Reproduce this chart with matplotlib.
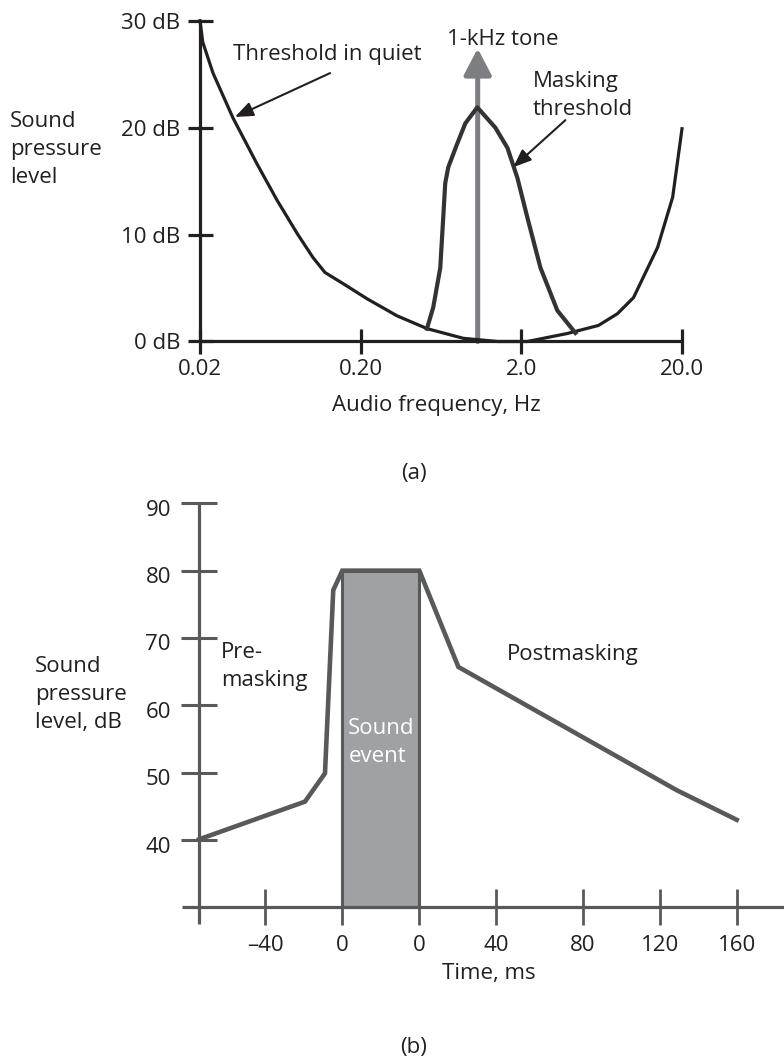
import matplotlib
matplotlib.use("Agg")
import matplotlib.pyplot as plt
from matplotlib.transforms import ScaledTranslation

plt.rcParams["font.family"] = ["Open Sans", "DejaVu Sans"]
FS = 16
LS = 1.45

W, H = 784, 1057
fig = plt.figure(figsize=(W / 100, H / 100), dpi=100)

def fx(x):
    return x / W

def fy(y):
    return 1 - y / H

def ftext(x, y, s, **kw):
    kw.setdefault("color", "#231f20")
    fig.text(fx(x), fy(y), s, fontsize=FS, **kw)

# ---------------- data: panel (a) ----------------
quiet_f = [0.02, 0.0208, 0.0241, 0.0321, 0.0453, 0.0604, 0.0805, 0.101, 0.120,
           0.156, 0.219, 0.337, 0.519, 0.87, 1.42, 2.18, 3.87, 6.04, 7.93,
           9.98, 14.1, 17.5, 20.0]
quiet_db = [30.0, 28.0, 25.1, 20.9, 16.6, 13.2, 10.1, 7.85, 6.45,
            5.4, 4.0, 2.4, 1.2, 0.3, 0.0, 0.0, 0.75, 1.5, 2.6,
            4.1, 8.8, 13.5, 19.9]
mask_f = [0.517, 0.566, 0.626, 0.653, 0.672, 0.702, 0.798, 0.896, 1.064,
          1.378, 1.64, 1.89, 2.18, 2.63, 3.35, 4.34]
mask_db = [1.2, 3.2, 6.9, 11.6, 14.8, 16.3, 18.5, 20.4, 21.9,
           20.0, 18.1, 15.3, 11.6, 6.9, 2.9, 0.8]
tone_f = 1.07
tone_db = 27.4
a_yticks = [0, 10, 20, 30]
a_ylabels = ["0 dB", "10 dB", "20 dB", "30 dB"]
a_xticks = [0.02, 0.2, 2.0, 20.0]
a_xlabels = ["0.02", "0.20", "2.0", "20.0"]

# ---------------- data: panel (b) ----------------
mask_t = [-74.4, -19.4, -9.0, -4.7, 0, 40, 60.3, 173.7, 204.9]
mask_spl = [40.1, 45.7, 49.9, 77.1, 80, 80, 65.7, 47.4, 43.0]
event_start, event_end, event_level = 0, 40, 80
b_xticks = [-40, 0, 40, 80, 125, 165, 205]
b_xlabels = ["\u201340", "0", "0", "40", "80", "120", "160"]
b_yticks = [40, 50, 60, 70, 80, 90]

# ---------------- panel (a) ----------------
K = "#231f20"
ax1 = fig.add_axes([fx(200), fy(341.5), fx(682) - fx(200), (341.5 - 20.7) / H])
ax1.set_xscale("log")
ax1.set_xlim(0.02, 20)
ax1.set_ylim(0, 30)
ax1.patch.set_visible(False)
for s in ["top", "right"]:
    ax1.spines[s].set_visible(False)
for s in ["left", "bottom"]:
    ax1.spines[s].set_linewidth(2.3)
    ax1.spines[s].set_color(K)
    ax1.spines[s].set_capstyle("butt")
ax1.set_yticks(a_yticks, a_ylabels)
ax1.set_xticks(a_xticks, a_xlabels)
ax1.minorticks_off()
ax1.tick_params(axis="both", direction="inout", length=18, width=2.3, color=K,
                labelsize=FS, labelcolor=K)
ax1.tick_params(axis="y", pad=5.4)
ax1.tick_params(axis="x", pad=3.7)

ax1.plot(quiet_f, quiet_db, color=K, lw=2.3, clip_on=False, zorder=3)
ax1.plot(mask_f, mask_db, color="#333333", lw=3.0, clip_on=False, zorder=3)
ax1.annotate("", xy=(tone_f, tone_db), xytext=(tone_f, 0),
             arrowprops=dict(arrowstyle="-|>,head_length=0.8,head_width=0.42",
                             mutation_scale=20, lw=3.6, color="#7d7e81",
                             shrinkA=0, shrinkB=0), zorder=2)
ax1.annotate("", xy=(0.033, 21.0), xytext=(0.129, 25.1),
             arrowprops=dict(arrowstyle="-|>,head_length=0.55,head_width=0.22",
                             mutation_scale=20, lw=1.5, color=K,
                             shrinkA=0, shrinkB=0))
ax1.annotate("", xy=(1.78, 16.3), xytext=(3.76, 20.7),
             arrowprops=dict(arrowstyle="-|>,head_length=0.55,head_width=0.22",
                             mutation_scale=20, lw=1.5, color=K,
                             shrinkA=0, shrinkB=0))

# va="baseline" on multi-line text pins the last line's baseline
ftext(233, 60, "Threshold in quiet", va="baseline")
ftext(447, 45, "1-kHz tone", va="baseline")
ftext(533, 115, "Masking\nthreshold", va="baseline", linespacing=LS)
ftext(10, 183, "Sound\npressure\nlevel", va="baseline", linespacing=LS)
ftext(436, 411.5, "Audio frequency, Hz", ha="center", va="baseline")
ftext(414, 474, "(a)", ha="center", va="center")

# ---------------- panel (b) ----------------
G = "#58595b"
ax2 = fig.add_axes([fx(181.75), fy(924.2), fx(784.1) - fx(181.75), (924.2 - 503.3) / H])
ax2.set_xlim(-83.4, 229.5)
ax2.set_ylim(27.5, 90)
ax2.patch.set_visible(False)
for s in ["top", "right"]:
    ax2.spines[s].set_visible(False)
ax2.spines["left"].set_position(("data", -74.4))
ax2.spines["bottom"].set_position(("data", 30))
for s in ["left", "bottom"]:
    ax2.spines[s].set_linewidth(2.3)
    ax2.spines[s].set_color(G)
    ax2.spines[s].set_capstyle("butt")
ax2.set_yticks(b_yticks)
ax2.set_xticks(b_xticks, b_xlabels)
ax2.tick_params(axis="y", direction="inout", length=26.6, width=2.2, color=G,
                labelsize=FS, labelcolor=K, pad=7)
ax2.tick_params(axis="x", direction="inout", length=26, width=2.0, color=G,
                labelsize=FS, labelcolor=K, pad=7)
for lab in ax2.get_yticklabels():
    lab.set_transform(lab.get_transform() + ScaledTranslation(0, -0.045, fig.dpi_scale_trans))

ax2.bar([(event_start + event_end) / 2], [event_level - 30], bottom=30,
        width=event_end - event_start, color="#a0a1a4", edgecolor=G, lw=2.2, zorder=2)
ax2.plot(mask_t, mask_spl, color=G, lw=3.3, clip_on=False, zorder=3,
         solid_joinstyle="miter")

ftext(35, 728, "Sound\npressure\nlevel, dB", va="baseline", linespacing=LS)
ftext(220.7, 686, "Pre-\nmasking", va="baseline", linespacing=LS)
ftext(348.3, 761.7, "Sound\nevent", va="baseline", linespacing=LS, color="white")
ftext(506.7, 660, "Postmasking", va="baseline")
ftext(489, 974, "Time, ms", ha="center", va="center")
ftext(414, 1047, "(b)", ha="center", va="center")

fig.savefig("out.png", dpi=100, facecolor="white")
